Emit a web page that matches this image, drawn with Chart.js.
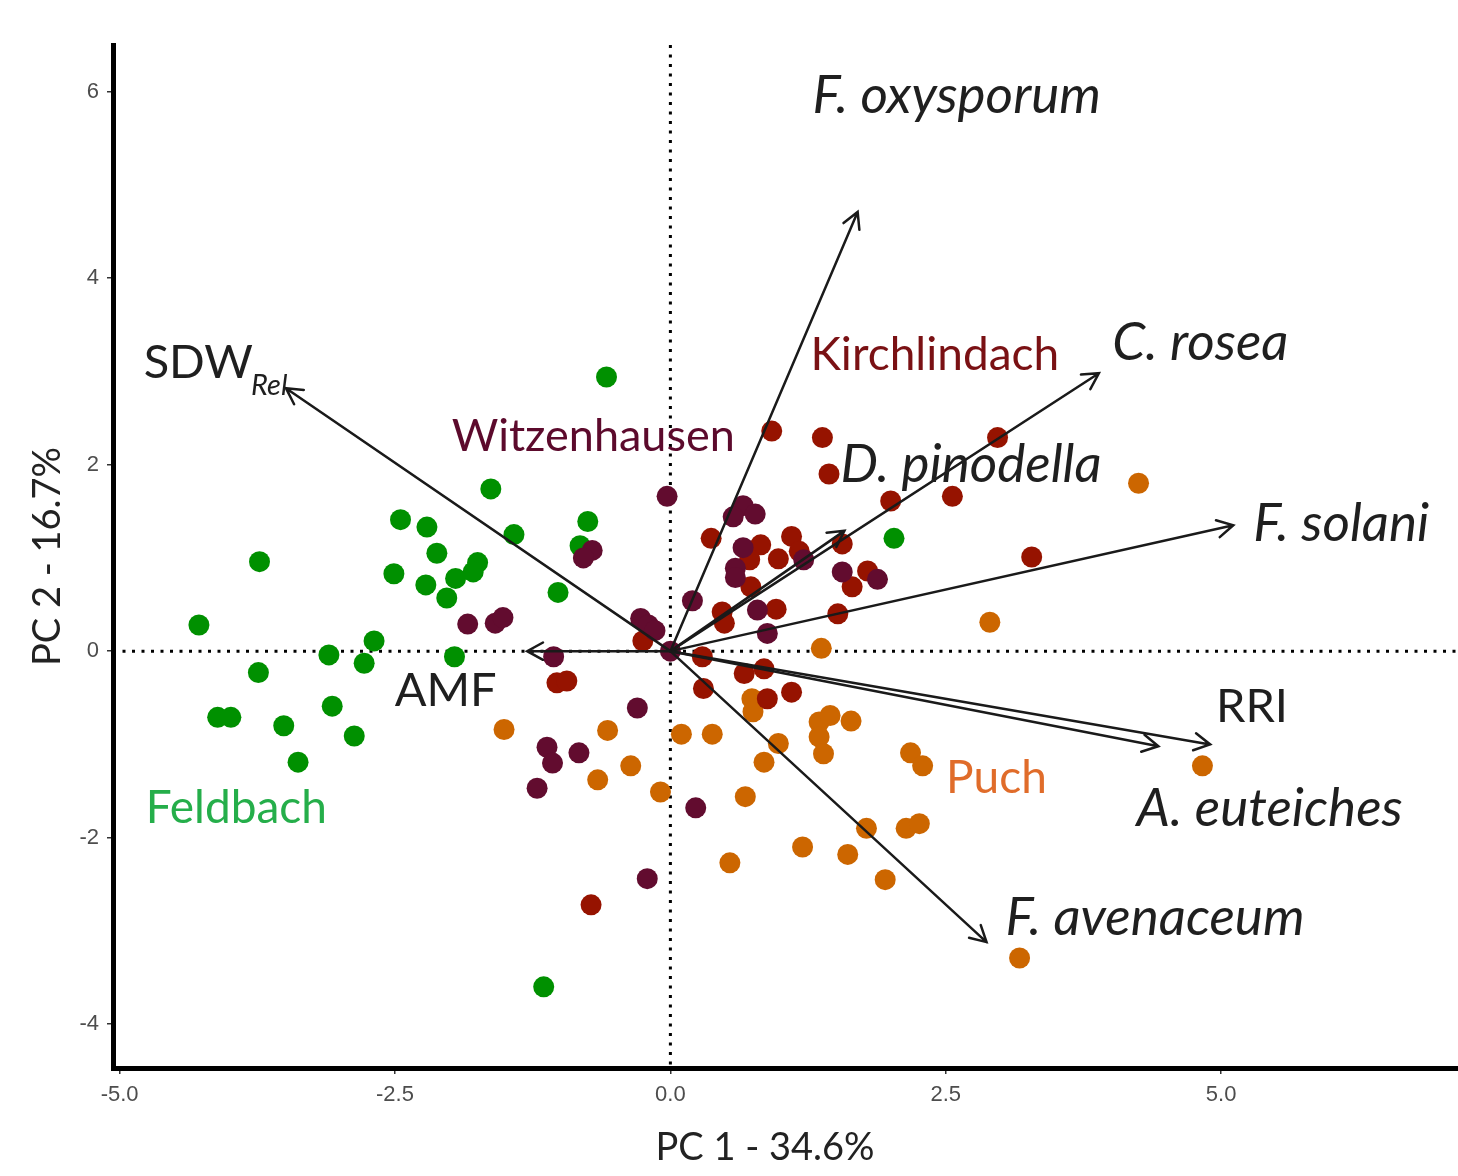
<!DOCTYPE html>
<html lang="en">
<head>
<meta charset="UTF-8">
<title>PCA biplot</title>
<script src="https://cdn.jsdelivr.net/npm/chart.js"></script>
<style>
  body { margin: 0; background: #fff; }
  canvas { display: block; }
</style>
</head>
<body>
<canvas id="pca" width="1458" height="1176"></canvas>
<script>
// site scores, PC1 / PC2
const witzenhausenX = [-0.03, 0.66, 0.57, 0.77, 0.66, 0.59, 0.59, 1.21, 1.56, 1.88, 0.20, 0.79, 0.88, -0.27, -0.20, -0.14, 0.00, -0.71, -0.79, -1.84, -1.59, -1.52, -1.06, -0.30, -1.12, -1.07, -0.83, -1.21, 0.23, -0.21];
const witzenhausenY = [1.66, 1.56, 1.44, 1.47, 1.11, 0.89, 0.79, 0.98, 0.85, 0.77, 0.54, 0.44, 0.19, 0.35, 0.28, 0.22, 0.00, 1.08, 1.00, 0.29, 0.30, 0.36, -0.06, -0.61, -1.03, -1.20, -1.09, -1.47, -1.68, -2.44];

const kirchlindachX = [0.92, 1.38, 1.44, 2.97, 2.56, 2.00, 3.28, 1.56, 0.37, 0.82, 0.72, 0.98, 1.10, 1.17, 1.79, 1.65, 0.73, 0.47, 0.49, 0.96, 1.52, -0.25, 0.29, 0.67, 0.85, 0.30, 1.10, 0.88, -1.03, -0.94, -0.72];
const kirchlindachY = [2.36, 2.29, 1.90, 2.29, 1.66, 1.61, 1.01, 1.15, 1.21, 1.14, 0.98, 0.99, 1.23, 1.07, 0.86, 0.69, 0.69, 0.42, 0.30, 0.45, 0.40, 0.11, -0.06, -0.24, -0.19, -0.40, -0.44, -0.51, -0.34, -0.32, -2.72];

const feldbachX = [-0.58, -1.63, -2.45, -2.21, -0.75, -1.42, -0.82, -2.12, -3.73, -1.75, -2.51, -1.79, -1.95, -2.22, -2.03, -1.02, -4.28, -2.69, -3.10, -2.78, -1.96, -3.74, -4.11, -3.99, -3.07, -3.51, -2.87, -3.38, -1.15, 2.03];
const feldbachY = [2.94, 1.74, 1.41, 1.33, 1.39, 1.25, 1.13, 1.05, 0.96, 0.95, 0.83, 0.85, 0.78, 0.71, 0.57, 0.63, 0.28, 0.11, -0.04, -0.13, -0.06, -0.23, -0.71, -0.71, -0.59, -0.80, -0.91, -1.19, -3.60, 1.21];

const puchX = [4.25, 2.90, 1.37, 0.74, 0.75, 0.10, 0.38, 0.98, 0.85, 1.35, 1.45, 1.64, 1.35, 1.39, -1.51, -0.57, -0.36, -0.66, -0.09, 0.68, 2.18, 2.29, 1.78, 2.14, 2.26, 1.20, 1.61, 0.54, 1.95, 3.17, 4.83];
const puchY = [1.80, 0.31, 0.03, -0.51, -0.65, -0.89, -0.89, -0.99, -1.19, -0.76, -0.69, -0.75, -0.92, -1.10, -0.84, -0.85, -1.23, -1.38, -1.51, -1.56, -1.09, -1.23, -1.90, -1.90, -1.85, -2.10, -2.18, -2.27, -2.45, -3.29, -1.23];

// variable loadings (arrow tips)
const loadingNames = ['F. oxysporum', 'C. rosea', 'D. pinodella', 'F. solani', 'RRI', 'A. euteiches', 'F. avenaceum', 'SDW', 'AMF'];
const loadingSub = ['', '', '', '', '', '', '', 'Rel', ''];
const loadingItalic = [true, true, true, true, false, true, true, false, false];
const loadingX = [1.70, 3.89, 1.58, 5.11, 4.90, 4.43, 2.87, -3.49, -1.30];
const loadingY = [4.71, 2.98, 1.29, 1.35, -1.00, -1.02, -3.12, 2.82, 0.00];
const loadingLabelX = [2.60, 4.81, 2.73, 6.09, 5.28, 5.44, 4.40, -4.12, -2.04];
const loadingLabelY = [5.77, 3.12, 1.81, 1.18, -0.76, -1.88, -3.04, 2.93, -0.59];

const siteNames = ['Witzenhausen', 'Kirchlindach', 'Feldbach', 'Puch'];
const siteLabelX = [-0.70, 2.40, -3.94, 2.96];
const siteLabelY = [2.15, 3.01, -1.84, -1.52];

const xTicks = [-5, -2.5, 0, 2.5, 5];
const yTicks = [-4, -2, 0, 2, 4, 6];
const xTitle = 'PC 1 - 34.6%';
const yTitle = 'PC 2 - 16.7%';

const pointColors = ['#620c2f', '#961300', '#009000', '#cc6600'];
const labelColors = ['#5c0a2c', '#7a1114', '#25ae4a', '#e06c2a'];

function pts(xs, ys) {
  return xs.map((v, i) => ({ x: v, y: ys[i] }));
}

const siteData = [
  pts(witzenhausenX, witzenhausenY),
  pts(kirchlindachX, kirchlindachY),
  pts(feldbachX, feldbachY),
  pts(puchX, puchY)
];

const biplot = {
  id: 'biplot',
  beforeDatasetsDraw(chart) {
    const { ctx, chartArea: a, scales: { x, y } } = chart;
    const x0 = x.getPixelForValue(0), y0 = y.getPixelForValue(0);
    ctx.save();
    ctx.beginPath();
    ctx.rect(a.left + 3, a.top, a.right - a.left, a.bottom - a.top - 3);
    ctx.clip();
    ctx.setLineDash([3, 6.5]);
    ctx.lineWidth = 3;
    ctx.strokeStyle = '#000';
    ctx.beginPath();
    ctx.moveTo(x0, a.top);
    ctx.lineTo(x0, a.bottom);
    ctx.moveTo(a.left, y0);
    ctx.lineTo(a.right, y0);
    ctx.stroke();
    ctx.restore();
  },
  afterDatasetsDraw(chart) {
    const { ctx, scales: { x, y } } = chart;
    const x0 = x.getPixelForValue(0), y0 = y.getPixelForValue(0);
    ctx.save();
    ctx.strokeStyle = '#1a1a1a';
    ctx.lineWidth = 2.5;
    ctx.lineCap = 'round';
    loadingX.forEach((lx, i) => {
      const tx = x.getPixelForValue(lx), ty = y.getPixelForValue(loadingY[i]);
      const ang = Math.atan2(ty - y0, tx - x0);
      const h = 18, spread = 0.5;
      ctx.beginPath();
      ctx.moveTo(x0, y0);
      ctx.lineTo(tx, ty);
      ctx.moveTo(tx - h * Math.cos(ang - spread), ty - h * Math.sin(ang - spread));
      ctx.lineTo(tx, ty);
      ctx.lineTo(tx - h * Math.cos(ang + spread), ty - h * Math.sin(ang + spread));
      ctx.stroke();
    });

    ctx.fillStyle = '#1f1f1f';
    ctx.textBaseline = 'alphabetic';
    loadingNames.forEach((name, i) => {
      const cx = x.getPixelForValue(loadingLabelX[i]);
      const by = y.getPixelForValue(loadingLabelY[i]);
      const mainFont = loadingItalic[i] ? 'italic 53px Lato' : '47px Lato';
      ctx.font = mainFont;
      const w1 = ctx.measureText(name).width;
      let w2 = 0;
      if (loadingSub[i]) {
        ctx.font = 'italic 29px Lato';
        w2 = ctx.measureText(loadingSub[i]).width;
      }
      const left = cx - (w1 + w2) / 2;
      ctx.textAlign = 'left';
      ctx.font = mainFont;
      ctx.fillText(name, left, by);
      if (loadingSub[i]) {
        ctx.font = 'italic 29px Lato';
        ctx.fillText(loadingSub[i], left + w1 - 2, by + 17);
      }
    });

    ctx.textAlign = 'center';
    siteNames.forEach((name, i) => {
      ctx.font = (name === 'Witzenhausen' ? 45 : 46) + 'px Lato';
      ctx.fillStyle = labelColors[i];
      ctx.fillText(name, x.getPixelForValue(siteLabelX[i]), y.getPixelForValue(siteLabelY[i]));
    });
    ctx.restore();
  },
  afterDraw(chart) {
    const { ctx, chartArea: a } = chart;
    ctx.save();
    ctx.fillStyle = '#222';
    ctx.font = '38px Lato';
    ctx.textAlign = 'center';
    ctx.textBaseline = 'alphabetic';
    ctx.fillText(xTitle, a.left + 652, a.bottom + 92);
    ctx.translate(48, (a.top + a.bottom) / 2);
    ctx.rotate(-Math.PI / 2);
    ctx.textBaseline = 'middle';
    ctx.fillText(yTitle, 0, 0);
    ctx.restore();
  }
};

const axisCommon = {
  type: 'linear',
  grid: { display: true, drawOnChartArea: false, drawTicks: true, tickLength: 6, color: '#333', lineWidth: 1.5 },
  border: { display: true, color: '#000', width: 5 },
  ticks: { color: '#4d4d4d', font: { family: 'Liberation Sans', size: 22 } }
};

new Chart(document.getElementById('pca'), {
  type: 'scatter',
  data: {
    datasets: siteNames.map((name, i) => ({
      label: name,
      data: siteData[i],
      backgroundColor: pointColors[i],
      borderWidth: 0,
      pointRadius: 10.5
    }))
  },
  options: {
    responsive: false,
    animation: false,
    devicePixelRatio: 1,
    events: [],
    layout: { autoPadding: false, padding: { top: 45, right: 0, left: 0, bottom: 0 } },
    plugins: { legend: { display: false }, tooltip: { enabled: false } },
    scales: {
      x: {
        ...axisCommon,
        min: -5.06,
        max: 7.15,
        afterFit(s) { s.height = 108; s.paddingLeft = 0; s.paddingRight = 0; },
        afterBuildTicks(s) { s.ticks = xTicks.map(v => ({ value: v })); },
        ticks: { ...axisCommon.ticks, padding: 8, callback: v => v.toFixed(1) }
      },
      y: {
        ...axisCommon,
        min: -4.47,
        max: 6.5,
        afterFit(s) { s.width = 113; s.paddingTop = 0; s.paddingBottom = 0; },
        afterBuildTicks(s) { s.ticks = yTicks.map(v => ({ value: v })); },
        ticks: { ...axisCommon.ticks, padding: 8, callback: v => String(v) }
      }
    }
  },
  plugins: [biplot]
});
</script>
</body>
</html>
